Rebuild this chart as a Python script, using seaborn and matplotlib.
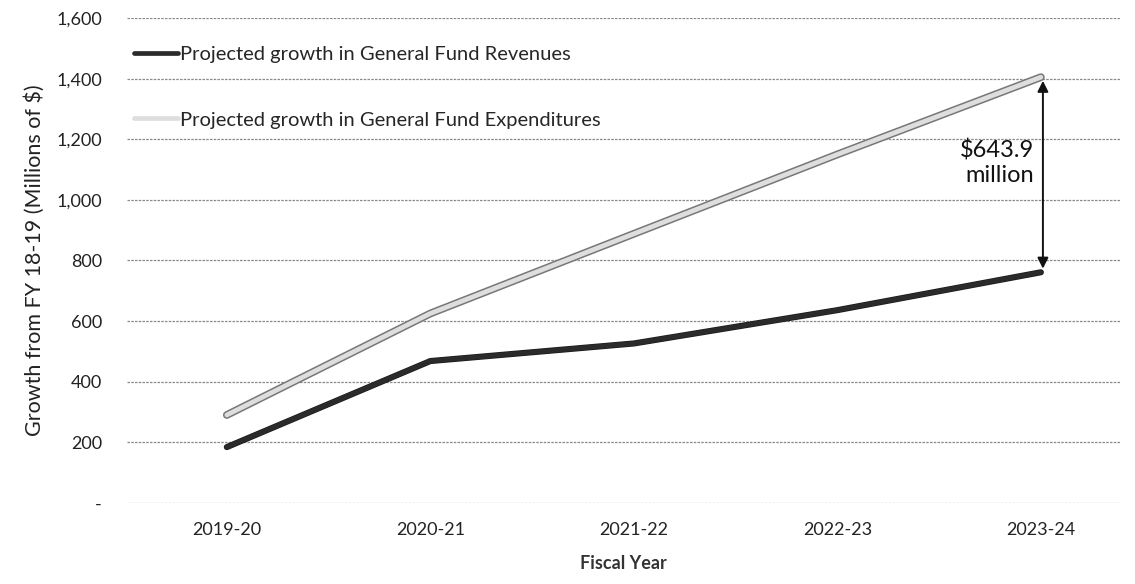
import numpy as np
import pandas as pd
import matplotlib
matplotlib.use("Agg")
import matplotlib.pyplot as plt
import matplotlib.patheffects as pe
import seaborn as sns

# data (millions of $, growth from FY 18-19)
years = ["2019-20", "2020-21", "2021-22", "2022-23", "2023-24"]
revenues = [184, 468, 526, 636, 761]
expenditures = [290, 625, 888, 1150, 1405]
gap_label = "$643.9\nmillion"
yticks = [0, 200, 400, 600, 800, 1000, 1200, 1400, 1600]
ytick_labels = ["-", "200", "400", "600", "800", "1,000", "1,200", "1,400", "1,600"]

rev_name = "Projected growth in General Fund Revenues"
exp_name = "Projected growth in General Fund Expenditures"

df = pd.DataFrame({
    "year": years * 2,
    "value": revenues + expenditures,
    "series": [rev_name] * len(years) + [exp_name] * len(years),
})
df["x"] = df["year"].map({y: i for i, y in enumerate(years)})

sns.set_style("white")
plt.rcParams["font.family"] = ["Lato", "DejaVu Sans"]

fig = plt.figure(figsize=(11.35, 5.84), dpi=100)
ax = fig.add_axes([0.112, 0.139, 0.875, 0.830])

sns.lineplot(data=df, x="x", y="value", hue="series",
             palette={rev_name: "#2b2b2b", exp_name: "#dedede"},
             linewidth=3.4, ax=ax, clip_on=False, zorder=3)

lines = ax.get_lines()
lines[0].set_path_effects([pe.Stroke(linewidth=4.4, foreground="#1a1a1a"), pe.Normal()])
lines[1].set_path_effects([pe.Stroke(linewidth=5.6, foreground="#777777"), pe.Normal()])

ax.set_ylim(0, 1600)
ax.set_xlim(-0.49, 4.39)
ax.set_yticks(yticks)
ax.set_yticklabels(ytick_labels)
ax.set_xticks(range(len(years)))
ax.set_xticklabels(years)
ax.tick_params(axis="y", labelsize=13, colors="#222222", length=0, pad=18)
ax.tick_params(axis="x", labelsize=13, colors="#222222", length=0, pad=14)
ax.yaxis.grid(True, color="#8a8a8a", linewidth=0.9, linestyle=(0, (2, 1)))
ax.xaxis.grid(False)
for s in ax.spines.values():
    s.set_visible(False)

ax.set_xlabel("Fiscal Year", fontsize=13, fontweight="bold", color="#333333", labelpad=12)
ax.set_ylabel("Growth from FY 18-19 (Millions of $)", fontsize=15.5, color="#222222", labelpad=8)

# gap arrow at the last year
ax.annotate("", xy=(4.01, revenues[-1] + 12), xytext=(4.01, expenditures[-1] - 12),
            arrowprops=dict(arrowstyle="<|-|>", color="#111111", lw=1.4,
                            mutation_scale=16, shrinkA=0, shrinkB=0))
ax.text(3.965, (revenues[-1] + expenditures[-1]) / 2 + 40, gap_label,
        ha="right", va="center", fontsize=17, color="#111111", linespacing=1.2)

handles, labels = ax.get_legend_handles_labels()
ax.legend(handles, labels, loc="upper left", bbox_to_anchor=(0.111, 0.935),
          bbox_transform=fig.transFigure, frameon=False, fontsize=14.5,
          handlelength=2.2, handletextpad=0.1, labelspacing=2.4, borderaxespad=0)

fig.savefig("out.png", dpi=100)
